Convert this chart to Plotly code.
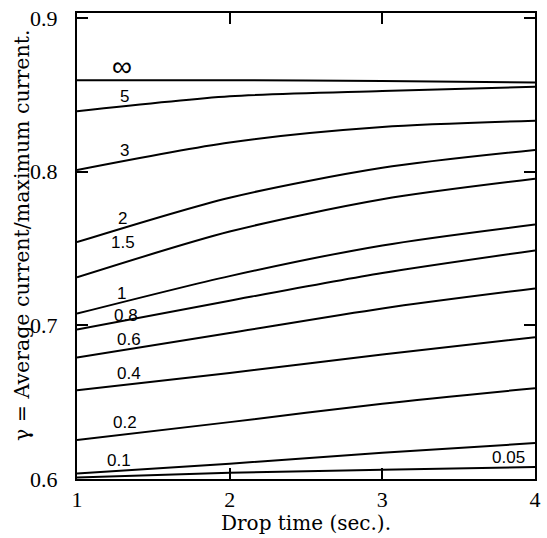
import plotly.graph_objects as go

# Drop time (sec.)
drop_time = [1, 2, 3, 4]

# curve parameter labels and gamma values at drop_time
curve_labels = ["∞", "5", "3", "2", "1.5", "1", "0.8", "0.6", "0.4", "0.2", "0.1", "0.05"]
gamma_inf = [0.8595, 0.8595, 0.859, 0.858]
gamma_5 = [0.8392, 0.849, 0.8525, 0.8552]
gamma_3 = [0.8011, 0.819, 0.829, 0.8331]
gamma_2 = [0.7541, 0.783, 0.8025, 0.8141]
gamma_1_5 = [0.7312, 0.761, 0.782, 0.7953]
gamma_1 = [0.7076, 0.732, 0.752, 0.7656]
gamma_0_8 = [0.6972, 0.716, 0.734, 0.7487]
gamma_0_6 = [0.679, 0.695, 0.711, 0.724]
gamma_0_4 = [0.6578, 0.669, 0.681, 0.6922]
gamma_0_2 = [0.6253, 0.637, 0.649, 0.6591]
gamma_0_1 = [0.6035, 0.610, 0.617, 0.6234]
gamma_0_05 = [0.601, 0.604, 0.606, 0.6078]
series = [gamma_inf, gamma_5, gamma_3, gamma_2, gamma_1_5, gamma_1, gamma_0_8,
          gamma_0_6, gamma_0_4, gamma_0_2, gamma_0_1, gamma_0_05]

# label positions (data coords)
label_x = [1.297, 1.31, 1.31, 1.30, 1.30, 1.29, 1.323, 1.34, 1.34, 1.317, 1.278, 3.825]
label_y = [0.8685, 0.8489, 0.8136, 0.7695, 0.7539, 0.7208, 0.7065, 0.6909, 0.6688, 0.637, 0.6123, 0.6143]

x_ticks = [1, 2, 3, 4]
x_ticktext = ["1", "2", "3", "4"]
y_ticks = [0.6, 0.7, 0.8, 0.9]
y_ticktext = ["0.6", "0.7", "0.8", "0.9"]
x_title = "Drop time (sec.)."
y_title = "γ = Average current/maximum current."

SERIF = "Liberation Serif, Times New Roman, serif"
WIDE_SERIF = "DejaVu Serif, serif"
SANS = "Liberation Sans, Arial, sans-serif"

fig = go.Figure()
for name, ys in zip(curve_labels, series):
    fig.add_trace(go.Scatter(x=drop_time, y=ys, mode="lines", name=name,
                             line=dict(color="black", width=2, shape="spline", smoothing=0.8),
                             showlegend=False, hoverinfo="skip"))

for name, lx, ly in zip(curve_labels, label_x, label_y):
    fs = 28 if name == "∞" else 17
    fig.add_annotation(x=lx, y=ly, text=name, showarrow=False,
                       font=dict(family=SANS, size=fs, color="black"))

# axis titles
fig.add_annotation(x=0.5, y=0, xref="paper", yref="paper", text=x_title,
                   showarrow=False, xanchor="center", yanchor="middle", yshift=-44,
                   font=dict(family=WIDE_SERIF, size=20, color="black"))
fig.add_annotation(x=0, y=0.5, xref="paper", yref="paper", text=y_title,
                   showarrow=False, xanchor="center", yanchor="middle", textangle=-90,
                   xshift=-55, yshift=10,
                   font=dict(family=WIDE_SERIF, size=20.5, color="black"))

axis_common = dict(showline=True, linecolor="black", linewidth=2, mirror="ticks",
                   ticks="inside", ticklen=11, tickwidth=1.5, tickcolor="black",
                   showgrid=False, zeroline=False,
                   tickfont=dict(family=SERIF, size=22, color="black"))

fig.update_xaxes(range=[1, 4], tickvals=x_ticks, ticktext=x_ticktext,
                 ticklabelstandoff=0, **axis_common)
fig.update_yaxes(range=[0.6, 0.9032], tickvals=y_ticks, ticktext=y_ticktext,
                 ticklabelstandoff=13, **axis_common)

fig.update_layout(width=547, height=538, margin=dict(l=77, r=6, t=12, b=59),
                  paper_bgcolor="white", plot_bgcolor="white")

fig.write_html("out.html", config={"displayModeBar": False},
               post_script="document.body.style.margin='0px';")
